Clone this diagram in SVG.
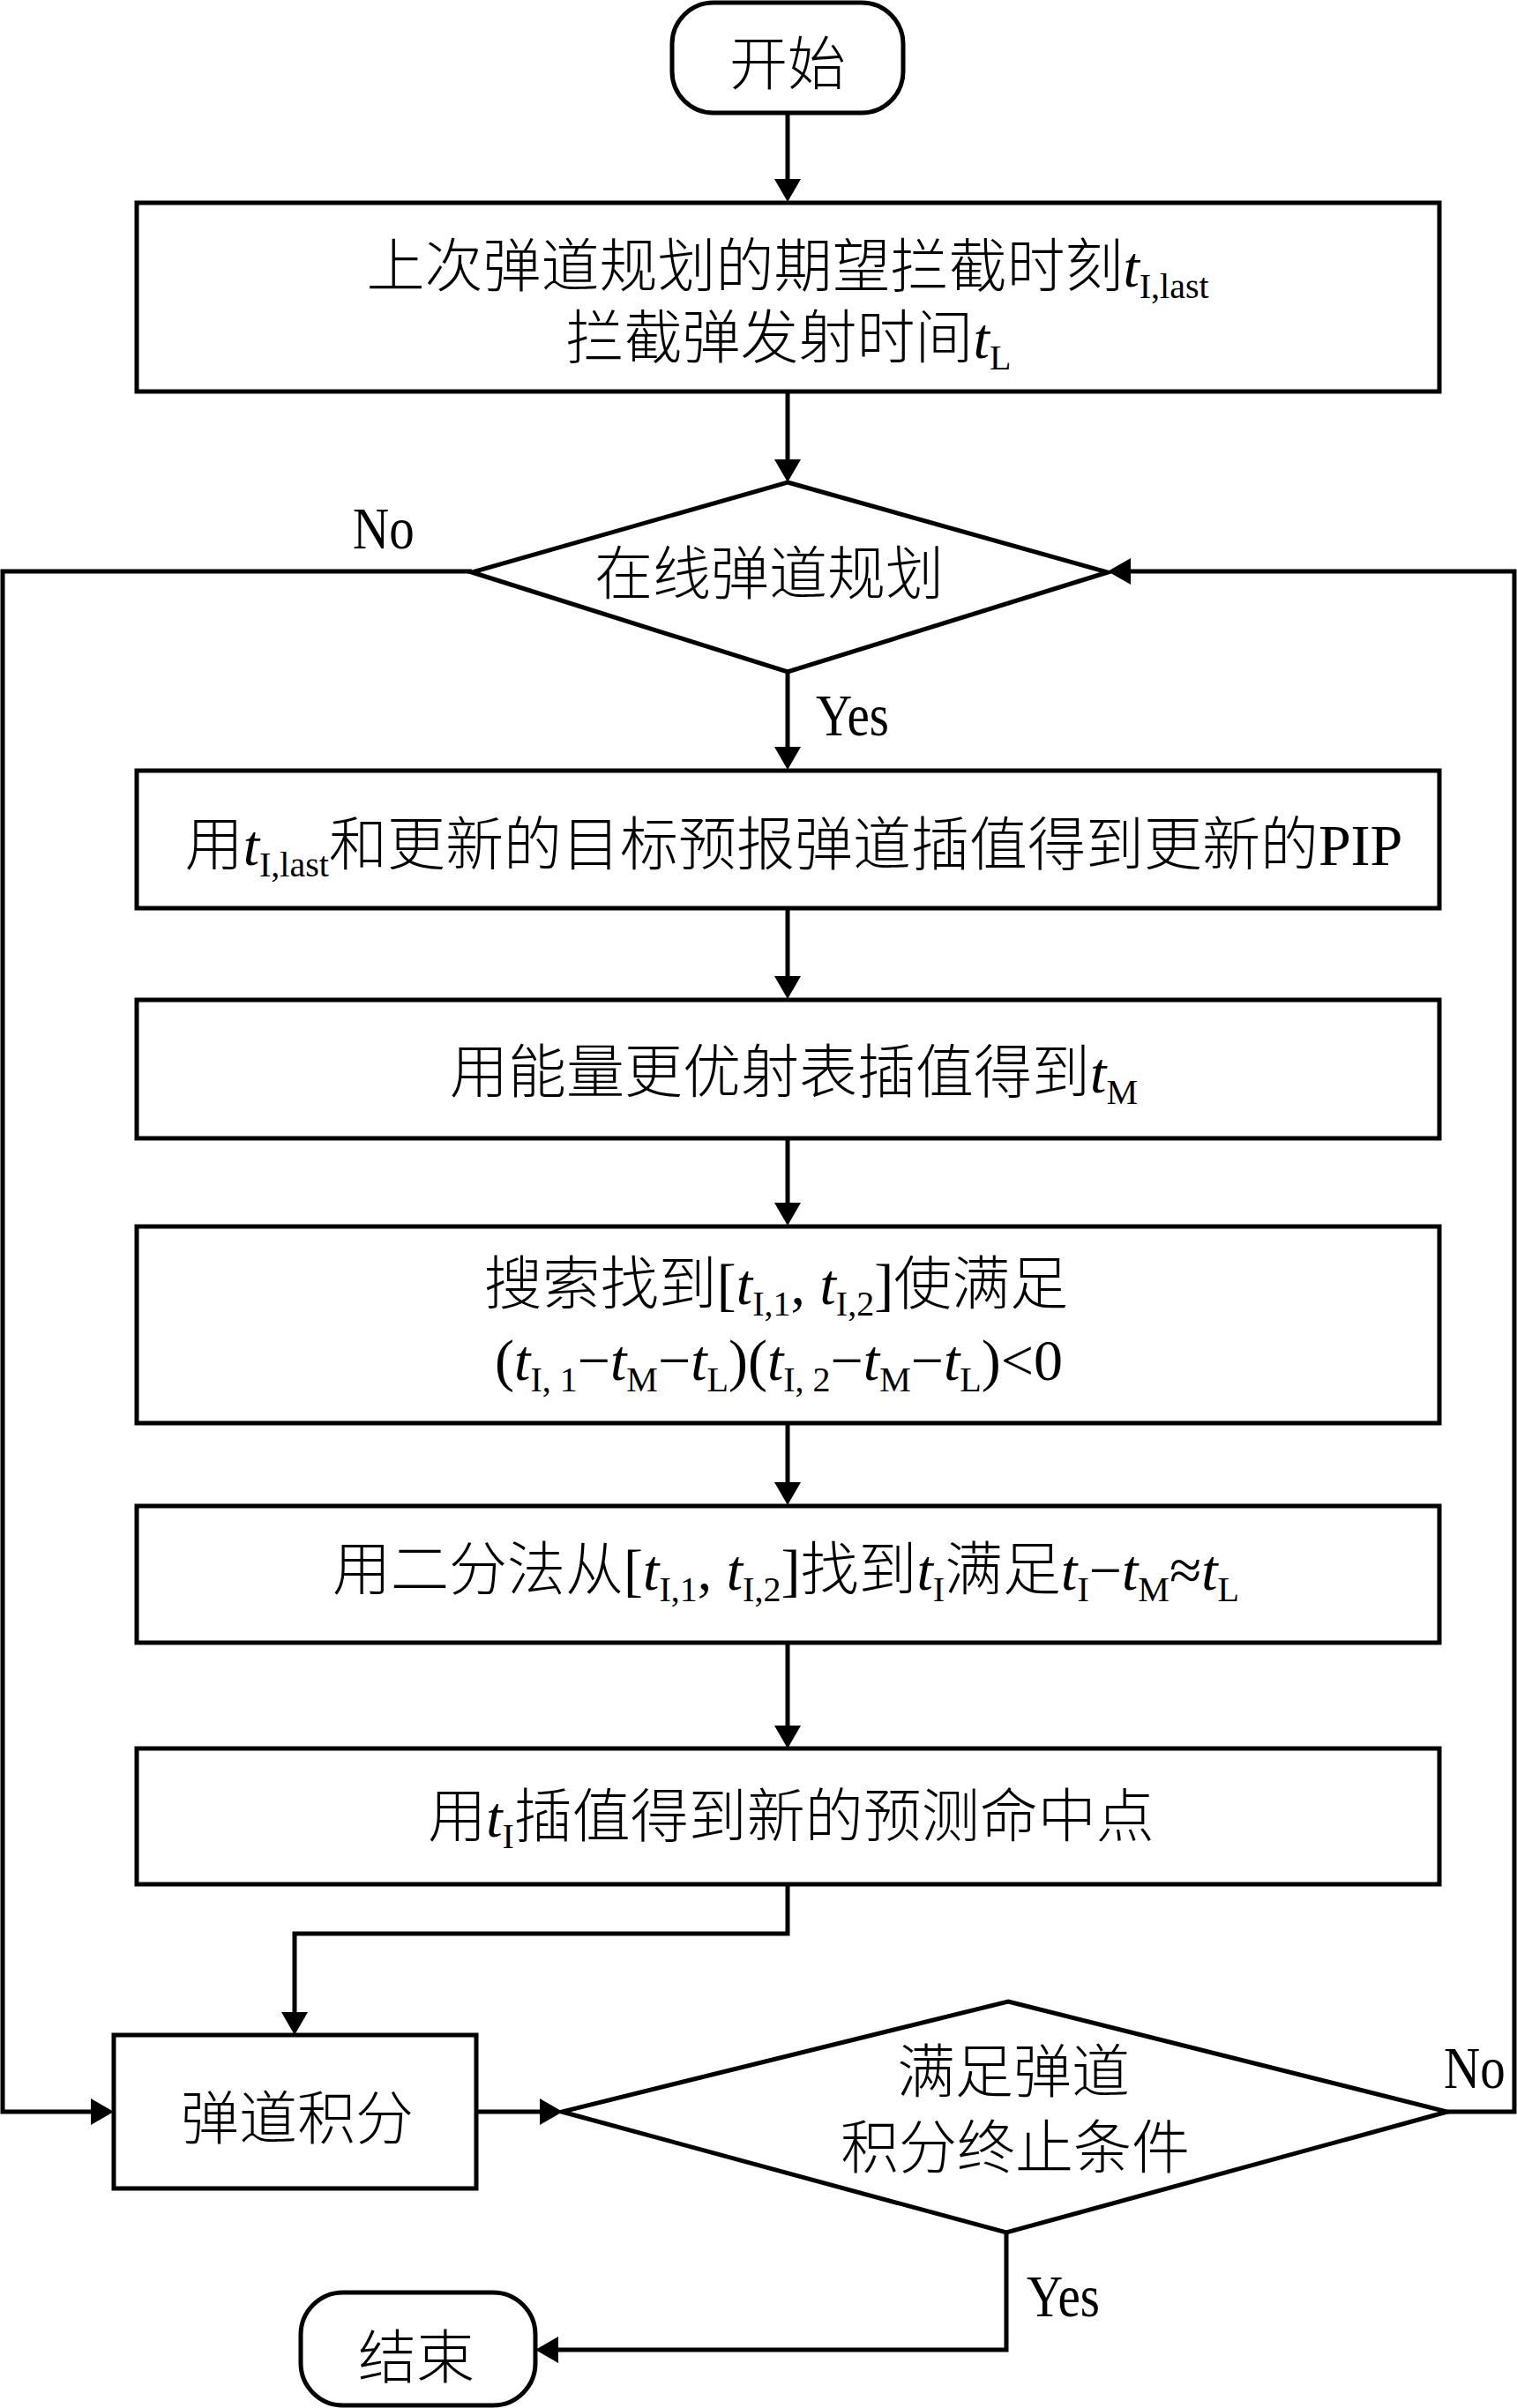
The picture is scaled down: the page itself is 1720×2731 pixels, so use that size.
<svg xmlns="http://www.w3.org/2000/svg" width="1720" height="2731" viewBox="0 0 1720 2731">
<style>
.shape{fill:#fff;stroke:#000;stroke-width:5}
.conn{fill:none;stroke:#000;stroke-width:5}
text{font-family:"Liberation Serif","Noto Sans CJK SC",serif;font-size:66px;fill:#000}
.t{text-anchor:middle;font-weight:300}
.it{font-style:italic;font-weight:normal}
.sub{font-size:40px;font-weight:normal}
.lat{font-weight:normal}
.lbl{font-size:57px}
</style>
<defs>
<marker id="arr" markerUnits="userSpaceOnUse" markerWidth="27" markerHeight="30" refX="21" refY="15" orient="auto">
<path d="M0,0 L26,15 L0,30 Z" fill="#000"/>
</marker>
</defs>
<rect width="1720" height="2731" fill="#fff"/>

<g id="connectors">
<path class="conn" marker-end="url(#arr)" d="M893,128 V224"/>
<path class="conn" marker-end="url(#arr)" d="M893,444 V542"/>
<path class="conn" marker-end="url(#arr)" d="M893,762 V868"/>
<path class="conn" marker-end="url(#arr)" d="M893,1030 V1128"/>
<path class="conn" marker-end="url(#arr)" d="M893,1291 V1385"/>
<path class="conn" marker-end="url(#arr)" d="M893,1614 V1702"/>
<path class="conn" marker-end="url(#arr)" d="M893,1863 V1978"/>
<path class="conn" marker-end="url(#arr)" d="M893,2137 V2193 H334 V2303"/>
<path class="conn" marker-end="url(#arr)" d="M535,648 H3 V2395 H124"/>
<path class="conn" marker-end="url(#arr)" d="M540,2395 H633"/>
<path class="conn" marker-end="url(#arr)" d="M1641,2395 H1717 V648 H1261"/>
<path class="conn" marker-end="url(#arr)" d="M1141,2532 V2665 H612"/>
</g>

<g id="start">
<rect class="shape" x="762" y="3" width="262" height="125" rx="47" ry="47"/>
<text class="t" x="893" y="96">开始</text>
</g>

<g id="init">
<rect class="shape" x="155" y="230" width="1477" height="214"/>
<text class="t" x="893" y="325">上次弹道规划的期望拦截时刻<tspan class="it">t</tspan><tspan class="sub" dy="13">I,last</tspan></text>
<text class="t" x="894" y="406">拦截弹发射时间<tspan class="it">t</tspan><tspan class="sub" dy="13">L</tspan></text>
</g>

<g id="decision1">
<polygon class="shape" points="893,547 1256,649 893,762 535,649"/>
<text class="t" x="872" y="674">在线弹道规划</text>
</g>

<g id="pip">
<rect class="shape" x="155" y="874" width="1477" height="156"/>
<text class="t" x="900" y="981">用<tspan class="it">t</tspan><tspan class="sub" dy="13">I,last</tspan><tspan dy="-13">和更新的目标预报弹道插值得到更新的</tspan><tspan class="lat">PIP</tspan></text>
</g>

<g id="tm">
<rect class="shape" x="155" y="1134" width="1477" height="157"/>
<text class="t" x="900" y="1239">用能量更优射表插值得到<tspan class="it">t</tspan><tspan class="sub" dy="13">M</tspan></text>
</g>

<g id="search">
<rect class="shape" x="155" y="1391" width="1477" height="223"/>
<text class="t" x="880" y="1479">搜索找到<tspan class="lat">[</tspan><tspan class="it">t</tspan><tspan class="sub" dy="13">I,1</tspan><tspan class="lat" dy="-13">, </tspan><tspan class="it">t</tspan><tspan class="sub" dy="13">I,2</tspan><tspan class="lat" dy="-13">]</tspan>使满足</text>
<text class="t lat" x="883" y="1565">(<tspan class="it">t</tspan><tspan class="sub" dy="13">I, 1</tspan><tspan dy="-13">−</tspan><tspan class="it">t</tspan><tspan class="sub" dy="13">M</tspan><tspan dy="-13">−</tspan><tspan class="it">t</tspan><tspan class="sub" dy="13">L</tspan><tspan dy="-13">)(</tspan><tspan class="it">t</tspan><tspan class="sub" dy="13">I, 2</tspan><tspan dy="-13">−</tspan><tspan class="it">t</tspan><tspan class="sub" dy="13">M</tspan><tspan dy="-13">−</tspan><tspan class="it">t</tspan><tspan class="sub" dy="13">L</tspan><tspan dy="-13">)&lt;0</tspan></text>
</g>

<g id="bisect">
<rect class="shape" x="155" y="1708" width="1477" height="155"/>
<text class="t" x="891" y="1803">用二分法从<tspan class="lat">[</tspan><tspan class="it">t</tspan><tspan class="sub" dy="13">I,1</tspan><tspan class="lat" dy="-13">, </tspan><tspan class="it">t</tspan><tspan class="sub" dy="13">I,2</tspan><tspan class="lat" dy="-13">]</tspan>找到<tspan class="it">t</tspan><tspan class="sub" dy="13">I</tspan><tspan dy="-13">满足</tspan><tspan class="it">t</tspan><tspan class="sub" dy="13">I</tspan><tspan class="lat" dy="-13">−</tspan><tspan class="it">t</tspan><tspan class="sub" dy="13">M</tspan><tspan class="lat" dy="-13">≈</tspan><tspan class="it">t</tspan><tspan class="sub" dy="13">L</tspan></text>
</g>

<g id="pip2">
<rect class="shape" x="155" y="1983" width="1477" height="154"/>
<text class="t" x="897" y="2083">用<tspan class="it">t</tspan><tspan class="sub" dy="13">I</tspan><tspan dy="-13">插值得到新的预测命中点</tspan></text>
</g>

<g id="integrate">
<rect class="shape" x="129" y="2308" width="411" height="174"/>
<text class="t" x="337" y="2426">弹道积分</text>
</g>

<g id="decision2">
<polygon class="shape" points="1143,2270 1641,2395 1141,2532 637,2395"/>
<text class="t" x="1149" y="2373">满足弹道</text>
<text class="t" x="1151" y="2459">积分终止条件</text>
</g>

<g id="end">
<rect class="shape" x="341" y="2600" width="266" height="128" rx="48" ry="48"/>
<text class="t" x="472" y="2697">结束</text>
</g>

<g id="labels">
<text class="lbl" transform="translate(400,622) scale(1,1.18)">No</text>
<text class="lbl" transform="translate(925,834) scale(1,1.18)">Yes</text>
<text class="lbl" transform="translate(1637,2368) scale(1,1.18)">No</text>
<text class="lbl" transform="translate(1164,2627) scale(1,1.18)">Yes</text>
</g>
</svg>
